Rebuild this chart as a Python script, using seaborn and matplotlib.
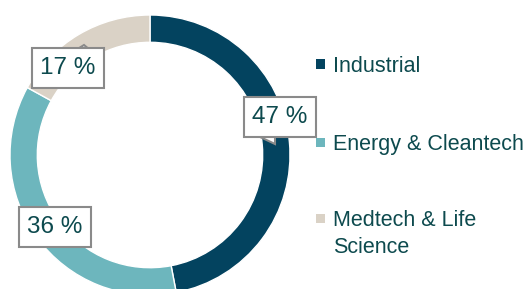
import matplotlib.pyplot as plt
import seaborn as sns
from matplotlib.patches import Rectangle, Polygon

# Data
segments = ['Industrial', 'Energy & Cleantech', 'Medtech & Life\nScience']
shares = [47, 36, 17]
share_labels = ['47 %', '36 %', '17 %']
colors = ['#03435f', '#6db6bd', '#dad2c6']
text_color = '#0d4a4e'

sns.set_theme(style='white')
plt.rcParams['font.family'] = ['Liberation Sans', 'DejaVu Sans']

W, H = 529, 289
fig = plt.figure(figsize=(W / 100, H / 100), dpi=100)

# donut axes: center (150,155) px, outer radius 140 px
cx, cy, r = 150, 155, 140
ax = fig.add_axes([(cx - r) / W, (H - cy - r) / H, 2 * r / W, 2 * r / H])
wedges, _ = ax.pie(shares, colors=colors, startangle=90, counterclock=False,
                   radius=1, wedgeprops=dict(width=0.195, edgecolor='white', linewidth=1))
ax.set_xlim(-1, 1)
ax.set_ylim(-1, 1)
ax.set_aspect('equal')
ax.axis('off')


def px(x, y):
    # pixel position -> donut data coords
    return (x - cx) / r, (cy - y) / r


# callout pointers (drawn in pixels, below the boxes)
pointers = [
    [(258, 136), (275, 144), (275, 136)],
    [(76, 50), (84, 45), (90, 50)],
]
for tri in pointers:
    ax.add_patch(Polygon([px(*p) for p in tri], closed=True, facecolor='white',
                         edgecolor='#8a8a8a', linewidth=1.5, zorder=4))

# label boxes (data coords of box centers)
label_pos = [px(280, 117), px(55, 227), px(68, 68)]
for lab, (x, y) in zip(share_labels, label_pos):
    ax.text(x, y, lab, ha='center', va='center', fontsize=17.5, color=text_color,
            bbox=dict(boxstyle='square,pad=0.36', facecolor='white', edgecolor='#8a8a8a', linewidth=1.5),
            zorder=5)

# legend drawn manually
legend_y = [64, 142, 218]
for lab, col, y in zip(segments, colors, legend_y):
    fig.patches.append(Rectangle((316 / W, (H - y - 4.5) / H), 9 / W, 9 / H,
                                 transform=fig.transFigure, facecolor=col, edgecolor='none'))
    fig.text(333 / W, (H - y + 8) / H, lab, ha='left', va='top',
             fontsize=15.5, color=text_color, linespacing=1.35)

fig.savefig('out.png', dpi=100)
